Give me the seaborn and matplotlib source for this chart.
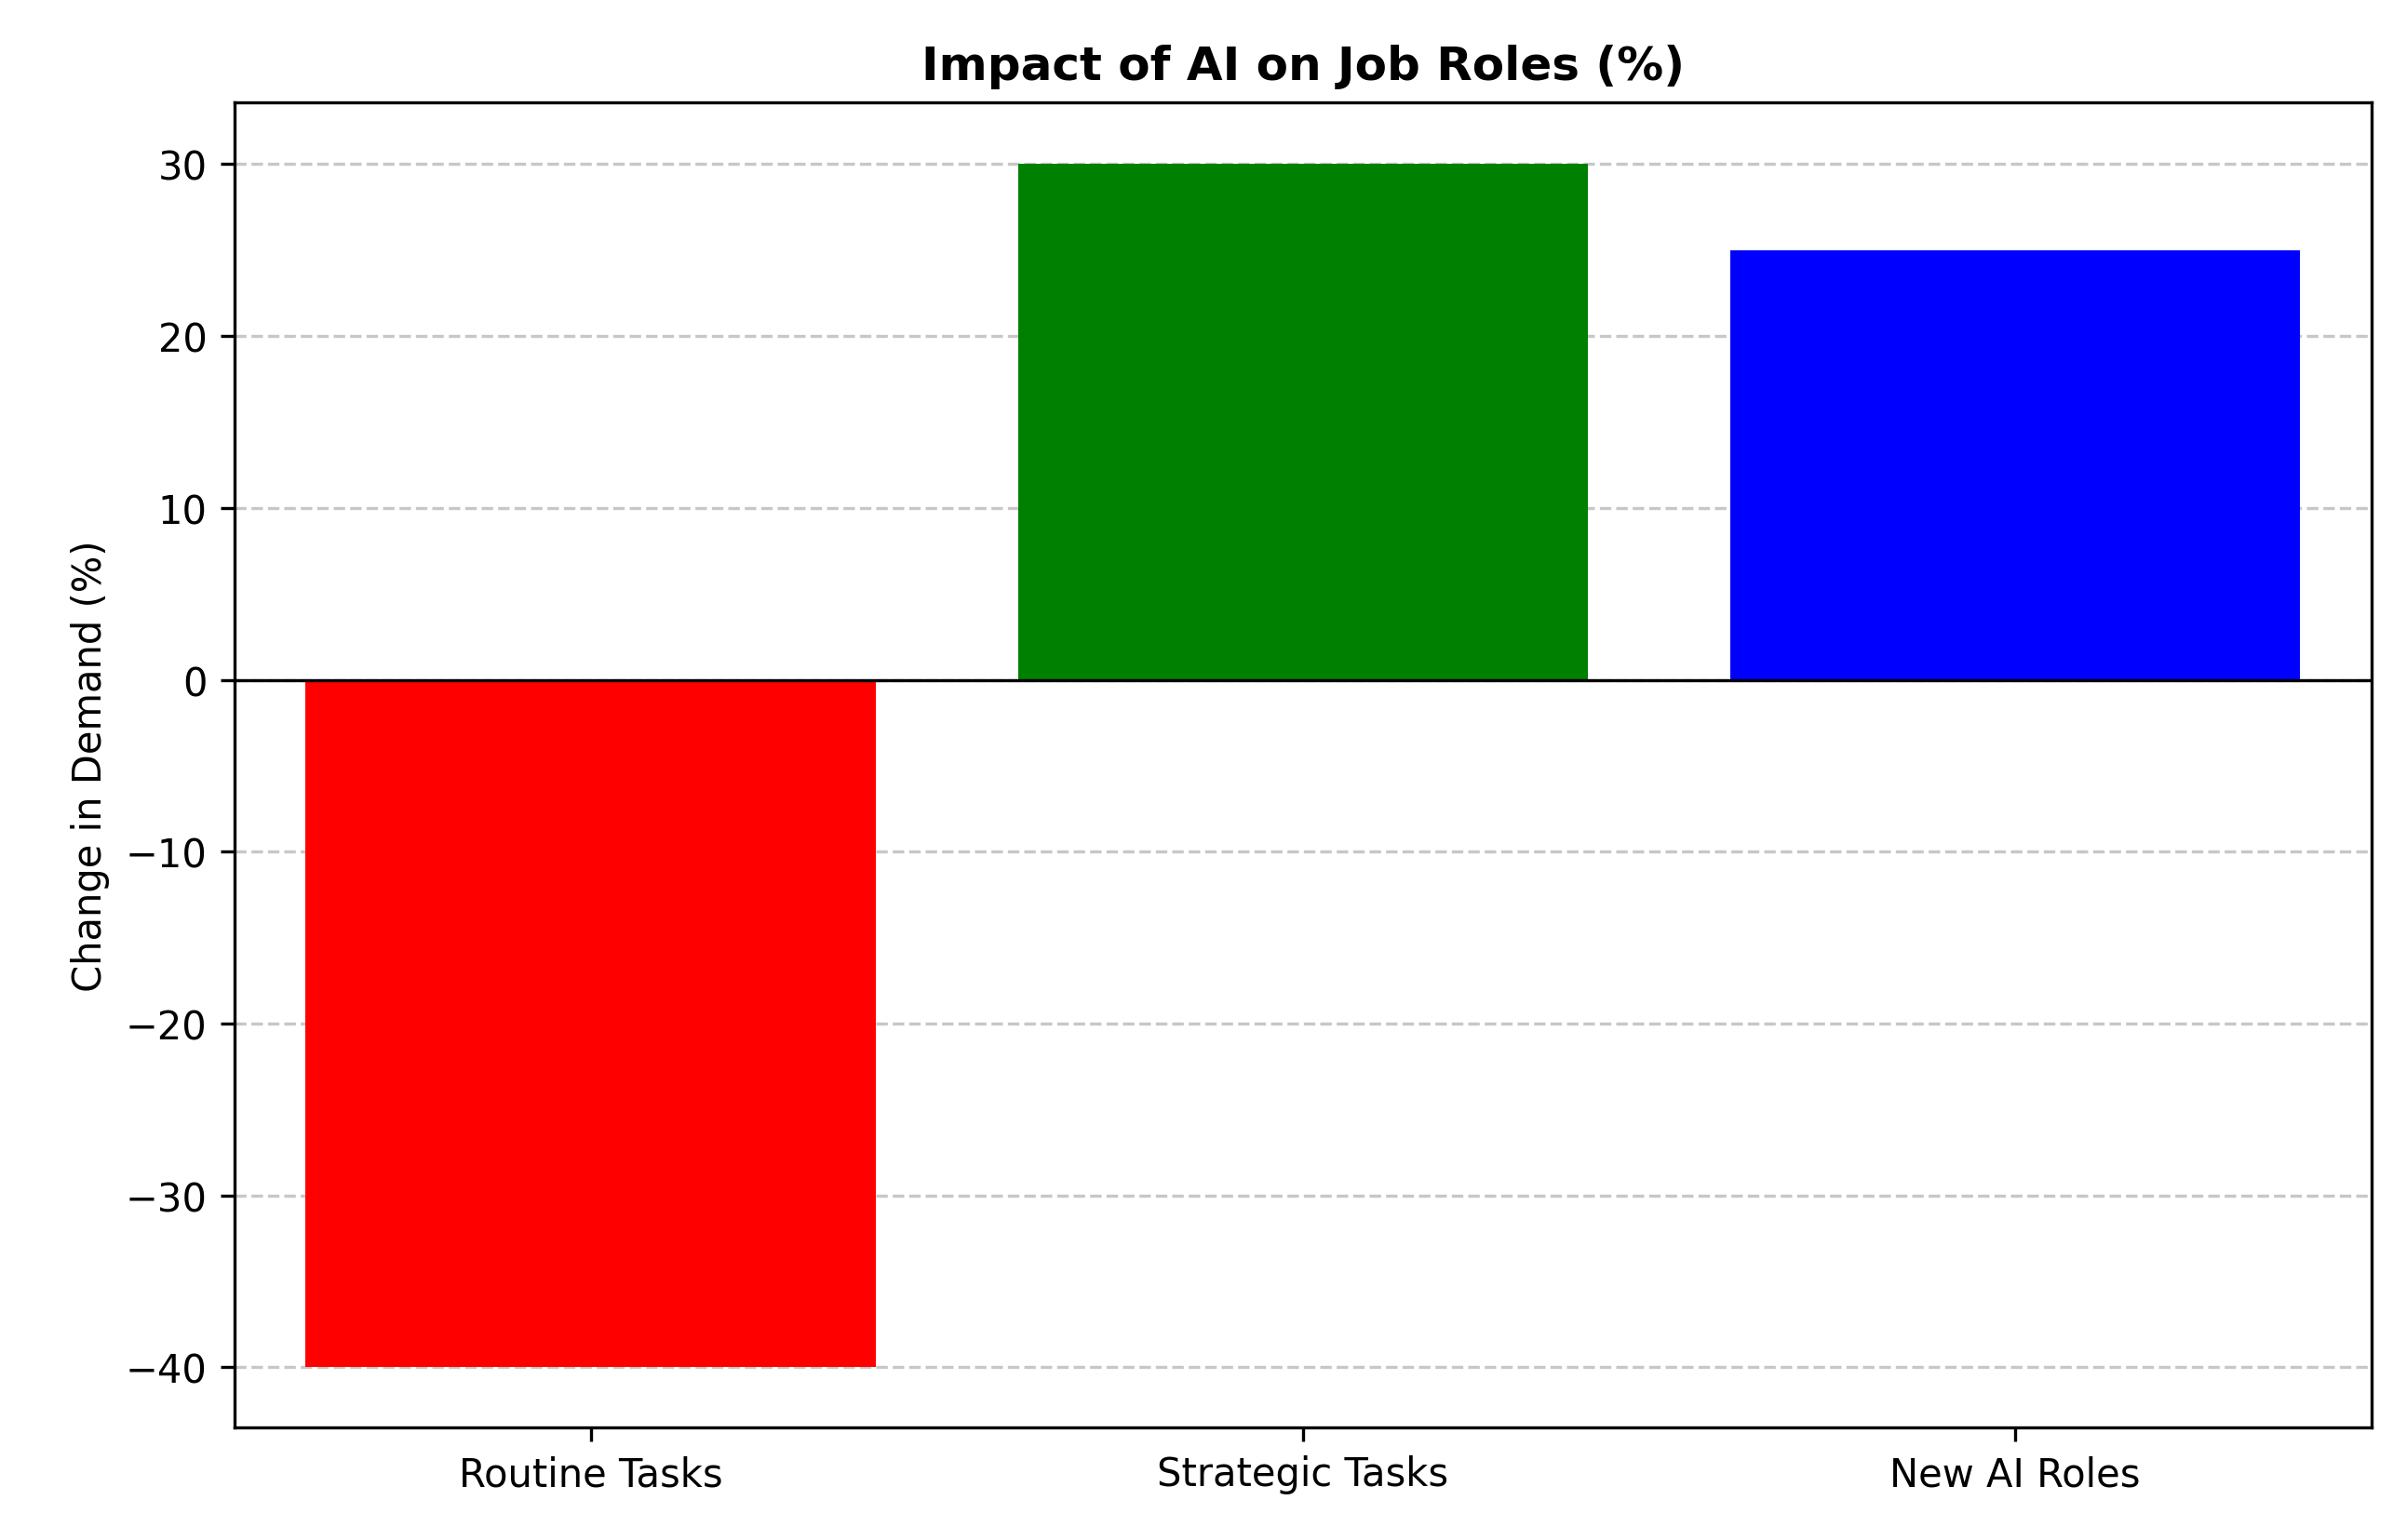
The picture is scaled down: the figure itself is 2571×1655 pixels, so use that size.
import matplotlib
matplotlib.use("Agg")
import matplotlib.pyplot as plt
import seaborn as sns
import pandas as pd

categories = ["Routine Tasks", "Strategic Tasks", "New AI Roles"]
changes = [-40, 30, 25]
bar_colors = ["red", "green", "blue"]

df = pd.DataFrame({"role": categories, "change": changes})

plt.rcParams["font.family"] = "DejaVu Sans"
fig, ax = plt.subplots(figsize=(2571 / 300, 1656 / 300), dpi=300)

sns.barplot(data=df, x="role", y="change", hue="role", palette=bar_colors,
            saturation=1, width=0.8, legend=False, ax=ax, zorder=3)

ax.axhline(0, color="black", linewidth=0.8, zorder=4)
ax.grid(axis="y", linestyle="--", alpha=0.7, zorder=0)
ax.set_axisbelow(True)
ax.set_title("Impact of AI on Job Roles (%)", fontsize=12, fontweight="bold")
ax.set_ylabel("Change in Demand (%)")
ax.set_xlabel("")
ax.set_ylim(-43.5, 33.6)

fig.subplots_adjust(left=0.098, right=0.991, top=0.933, bottom=0.073)
fig.savefig("out.png", dpi=300)
